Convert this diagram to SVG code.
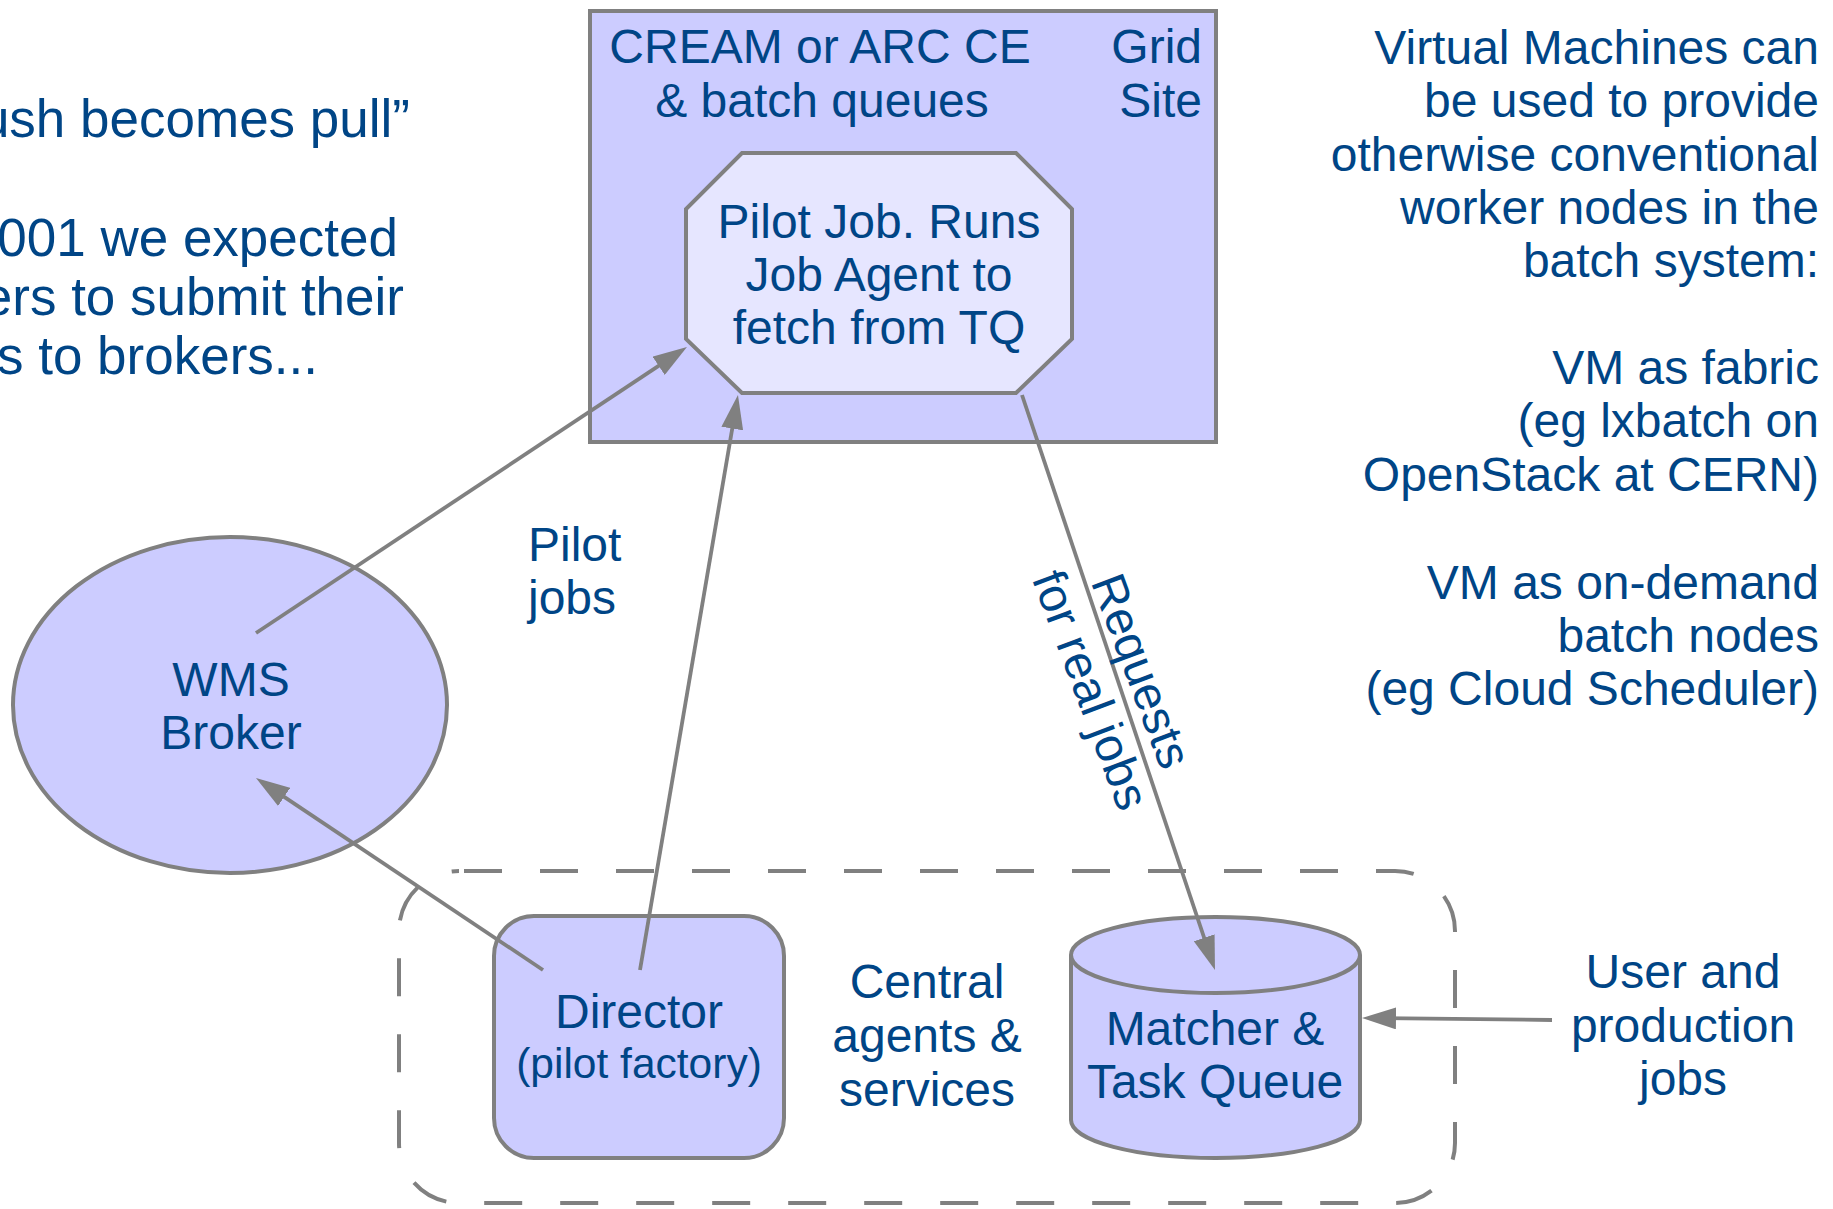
<svg xmlns="http://www.w3.org/2000/svg" width="1833" height="1209" viewBox="0 0 1833 1209">
  <style>
    text { font-family: "Liberation Sans", Arial, sans-serif; fill: #004586; }
    .t47 { font-size: 48px; }
    .t53 { font-size: 53px; }
    .t42 { font-size: 42.5px; }
    .mid { text-anchor: middle; }
    .end { text-anchor: end; }
    .shape { fill: #ccccff; stroke: #808080; stroke-width: 4; }
    .light { fill: #e6e6ff; stroke: #808080; stroke-width: 4; stroke-linejoin: miter; }
    .conn { fill: none; stroke: #808080; stroke-width: 3.8; marker-end: url(#arrow); }
    .dash { fill: none; stroke: #808080; stroke-width: 4; stroke-dasharray: 38 38; stroke-dashoffset: -5; }
  </style>
  <defs>
    <marker id="arrow" markerUnits="userSpaceOnUse" markerWidth="34" markerHeight="22" refX="14" refY="11" orient="auto" viewBox="0 0 34 22">
      <path d="M0,0 L34,11 L0,22 Z" fill="#808080"/>
    </marker>
  </defs>
  <rect width="1833" height="1209" fill="#ffffff"/>

  <g id="intro-text">
    <text class="t53 end" x="410" y="137">ush becomes pull”</text>
    <text class="t53 end" x="398" y="256">001 we expected</text>
    <text class="t53 end" x="404" y="315">ers to submit their</text>
    <text class="t53 end" x="318" y="374">s to brokers...</text>
  </g>

  <g id="grid-site">
    <rect class="shape" x="590" y="11" width="626" height="431"/>
    <text class="t47 mid" x="820" y="63">CREAM or ARC CE</text>
    <text class="t47 mid" x="822" y="117">&amp; batch queues</text>
    <text class="t47 end" x="1202" y="63">Grid</text>
    <text class="t47 end" x="1202" y="117">Site</text>
  </g>

  <g id="pilot-job">
    <polygon class="light" points="742,153 1016,153 1072,209 1072,339 1016,393 742,393 686,339 686,209"/>
    <text class="t47 mid" x="879" y="238">Pilot Job. Runs</text>
    <text class="t47 mid" x="879" y="291">Job Agent to</text>
    <text class="t47 mid" x="879" y="344">fetch from TQ</text>
  </g>

  <g id="vm-text">
    <text class="t47 end" x="1819" y="64">Virtual Machines can</text>
    <text class="t47 end" x="1819" y="117">be used to provide</text>
    <text class="t47 end" x="1819" y="171">otherwise conventional</text>
    <text class="t47 end" x="1819" y="224">worker nodes in the</text>
    <text class="t47 end" x="1819" y="277">batch system:</text>
    <text class="t47 end" x="1819" y="384">VM as fabric</text>
    <text class="t47 end" x="1819" y="437">(eg lxbatch on</text>
    <text class="t47 end" x="1819" y="491">OpenStack at CERN)</text>
    <text class="t47 end" x="1819" y="599">VM as on-demand</text>
    <text class="t47 end" x="1819" y="652">batch nodes</text>
    <text class="t47 end" x="1819" y="705">(eg Cloud Scheduler)</text>
  </g>

  <g id="wms-broker">
    <ellipse class="shape" cx="230" cy="705" rx="217" ry="168"/>
    <text class="t47 mid" x="231" y="696">WMS</text>
    <text class="t47 mid" x="231" y="749">Broker</text>
  </g>

  <g id="central-services">
    <rect class="dash" x="399" y="871" width="1056" height="332" rx="60" ry="60"/>
    <text class="t47 mid" x="927" y="998">Central</text>
    <text class="t47 mid" x="927" y="1052">agents &amp;</text>
    <text class="t47 mid" x="927" y="1106">services</text>
  </g>

  <g id="director">
    <rect class="shape" x="494" y="916" width="290" height="242" rx="40" ry="40"/>
    <text class="t47 mid" x="639" y="1028">Director</text>
    <text class="t42 mid" x="639" y="1078">(pilot factory)</text>
  </g>

  <g id="task-queue">
    <path class="shape" d="M1071,955 A144.5,38 0 0 1 1360,955 L1360,1120 A144.5,38 0 0 1 1071,1120 Z"/>
    <path d="M1071,955 A144.5,38 0 0 0 1360,955" fill="none" stroke="#808080" stroke-width="4"/>
    <text class="t47 mid" x="1215" y="1045">Matcher &amp;</text>
    <text class="t47 mid" x="1215" y="1098">Task Queue</text>
  </g>

  <g id="user-jobs">
    <text class="t47 mid" x="1683" y="988">User and</text>
    <text class="t47 mid" x="1683" y="1042">production</text>
    <text class="t47 mid" x="1683" y="1095">jobs</text>
  </g>

  <g id="connectors">
    <line class="conn" x1="256" y1="633" x2="670.3" y2="358.1"/>
    <line class="conn" x1="543" y1="970" x2="272.6" y2="789.1"/>
    <line class="conn" x1="640" y1="970" x2="734.6" y2="414.7"/>
    <line class="conn" x1="1022" y1="395" x2="1208.6" y2="951"/>
    <line class="conn" x1="1552" y1="1020" x2="1382" y2="1018.2"/>
    <g id="pilot-jobs-label">
      <text class="t47" x="528" y="561">Pilot</text>
      <text class="t47" x="528" y="614">jobs</text>
    </g>
    <g id="requests-label" transform="translate(1112,682) rotate(69.5)">
      <text class="t47 mid" x="0" y="-15">Requests</text>
      <text class="t47 mid" x="0" y="39">for real jobs</text>
    </g>
  </g>
</svg>
